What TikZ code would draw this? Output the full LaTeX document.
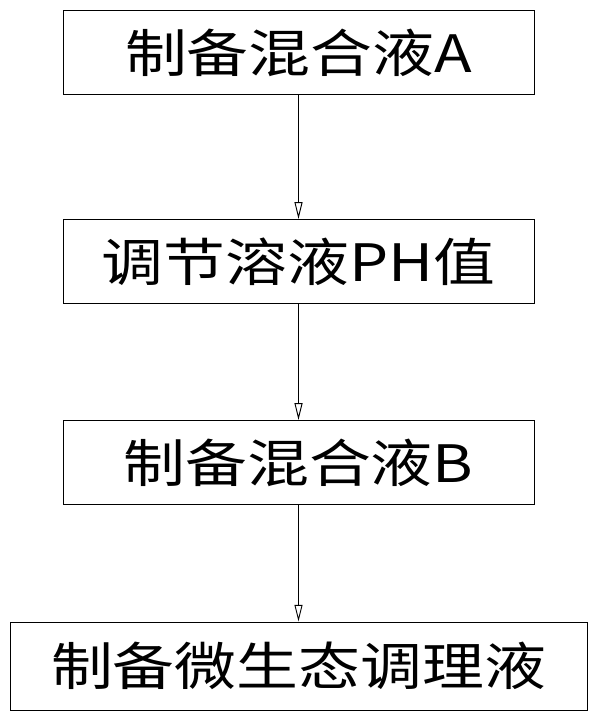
\documentclass[tikz,border=0pt]{standalone}
\usepackage{fontspec}
\newfontfamily\cjk[FakeStretch=1.2]{Noto Sans CJK SC}
\usetikzlibrary{arrows.meta,positioning}
\begin{document}
\begin{tikzpicture}[x=0.03cm,y=-0.03cm,
            stepbox/.style={draw, thick, minimum width=14.13cm, minimum height=2.53cm, inner sep=0pt, font=\cjk\fontsize{44}{46}\selectfont},
            flow/.style={draw, thick, -{Triangle[open, length=5mm, width=2.4mm]}}
        ]
        \useasboundingbox (0,0) rectangle (600,726);

        % steps
        \node[stepbox] (mixa) at (298.5,52.5) {制备混合液A};
        \node[stepbox] (ph) at (298.5,261.5) {调节溶液PH值};
        \node[stepbox] (mixb) at (298.5,462.5) {制备混合液B};
        \node[stepbox, minimum width=17.31cm, minimum height=2.64cm] (final) at (298.5,666) {制备微生态调理液};

        \draw[flow] (mixa) -- (ph);
        \draw[flow] (ph) -- (mixb);
        \draw[flow] (mixb) -- (final);

        \end{tikzpicture}
\end{document}
